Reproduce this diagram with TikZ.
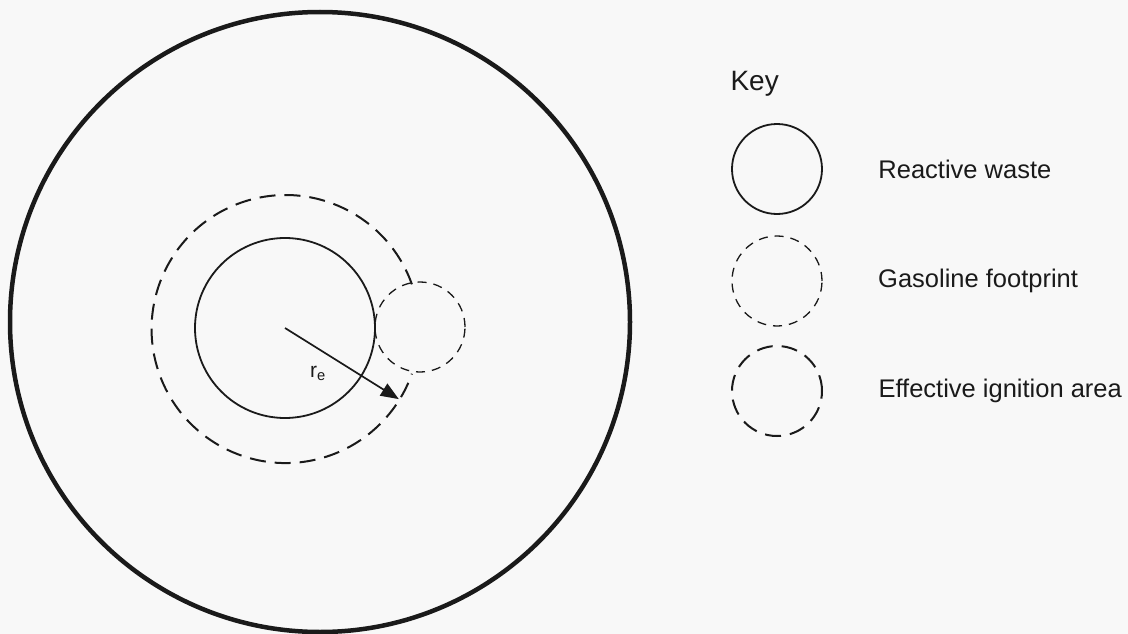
\documentclass[tikz,border=0pt]{standalone}
\usepackage{fontspec}
\setmainfont{Liberation Sans}
\usepackage{tikz}
\usetikzlibrary{positioning, arrows.meta}
\definecolor{paper}{HTML}{F8F8F8}
\definecolor{ink}{HTML}{1a1a1a}

\begin{document}
\begin{tikzpicture}[x=1pt, y=-1pt,
  every node/.style={text=ink},
  ring/.style={circle, draw=ink, inner sep=0pt},
  wasteline/.style={line width=1.8pt},
  gasline/.style={line width=1.3pt, dash pattern=on 9pt off 7pt},
  effline/.style={line width=2pt, dash pattern=on 16pt off 9pt},
  keytext/.style={font=\fontsize{25.5}{30}\selectfont, anchor=west}]
\fill[paper] (0,0) rectangle (1128,634);
\useasboundingbox (0,0) rectangle (1128,634);

% site boundary and the pile
\node[ring, line width=4.5pt, minimum size=620pt] (site) at (320,322) {};
\node[ring, wasteline, minimum size=180pt] (waste) at (285,328) {};
\node[circle, inner sep=0pt, minimum size=268pt] (eff) at (285,328) {};
\node[ring, gasline, minimum size=90pt] (gas) at (420,327) {};
% ignition area outline stops where the gasoline footprint begins
\draw[effline, draw=ink] (eff.19.5) arc[start angle=19.5, end angle=340.5, radius=134pt];

\draw[-{Triangle[length=18pt, width=14pt]}, line width=1.7pt, draw=ink, fill=ink]
  (waste.center) -- (eff.-32);
\node[font=\fontsize{21}{24}\selectfont] (re) at (318,373) {r\textsubscript{e}};

% key
\node[keytext, font=\fontsize{28}{34}\selectfont] (key) at (727,84) {Key};
\node[ring, wasteline, minimum size=90pt] (kwaste) at (777,169) {};
\node[ring, gasline, minimum size=90pt] (kgas) at (777,281) {};
\node[ring, effline, minimum size=90pt] (keff) at (777,391) {};
\node[keytext, right=52pt of kwaste] (lwaste) {Reactive waste};
\node[keytext, right=52pt of kgas] (lgas) {Gasoline footprint};
\node[keytext, right=52pt of keff] (leff) {Effective ignition area};
\end{tikzpicture}
\end{document}
